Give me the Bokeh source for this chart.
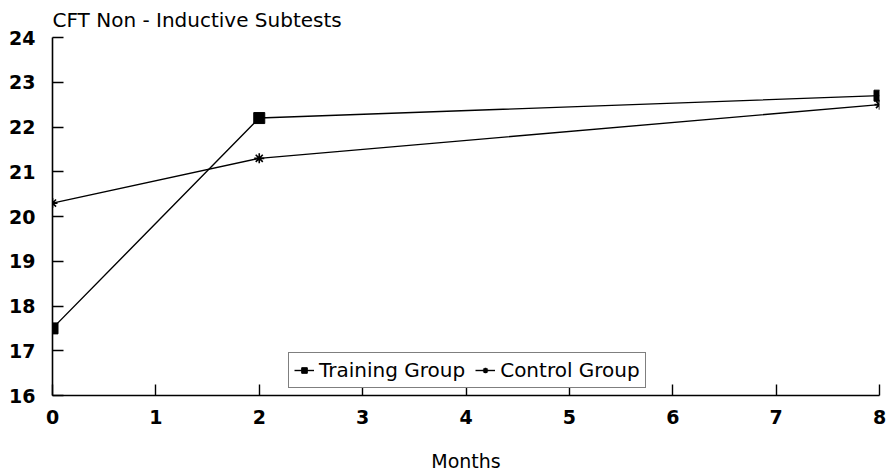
from bokeh.plotting import figure
from bokeh.embed import file_html
from bokeh.resources import INLINE
from bokeh.models import Legend, LegendItem, FixedTicker

months = [0, 2, 8]
training = [17.5, 22.2, 22.7]
control = [20.3, 21.3, 22.5]
x_ticks = [0, 1, 2, 3, 4, 5, 6, 7, 8]
y_ticks = [16, 17, 18, 19, 20, 21, 22, 23, 24]

FONT = "DejaVu Sans"

p = figure(width=890, height=475, output_backend="svg", toolbar_location=None,
           x_range=(0, 8), y_range=(16, 24),
           min_border_left=52, min_border_right=11, min_border_top=0, min_border_bottom=80,
           title="CFT Non - Inductive Subtests")
p.title.text_font = FONT
p.title.text_font_size = "20px"
p.title.text_font_style = "normal"
p.title.text_color = "black"
p.title.align = "left"
p.title.offset = 0
p.title.standoff = 11

p.outline_line_color = None
p.grid.visible = False
p.background_fill_color = "white"

for ax in (p.xaxis[0], p.yaxis[0]):
    ax.major_tick_in = 11
    ax.major_tick_out = 0
    ax.minor_tick_in = 0
    ax.minor_tick_out = 0
    ax.axis_line_width = 1.6
    ax.major_tick_line_width = 1.4
    ax.axis_line_color = "black"
    ax.major_tick_line_color = "black"
    ax.major_label_text_font = FONT
    ax.major_label_text_font_size = "19px"
    ax.major_label_text_font_style = "bold"
    ax.major_label_text_color = "black"

p.xaxis.ticker = FixedTicker(ticks=x_ticks)
p.yaxis.ticker = FixedTicker(ticks=y_ticks)
p.xaxis.major_label_standoff = 14
p.yaxis.major_label_standoff = 17
p.xaxis.axis_label = "Months"
p.xaxis.axis_label_text_font = FONT
p.xaxis.axis_label_text_font_size = "19px"
p.xaxis.axis_label_text_font_style = "normal"
p.xaxis.axis_label_text_color = "black"
p.xaxis.axis_label_standoff = 23

l1 = p.line(months, training, line_color="black", line_width=1.4)
m1 = p.scatter(months, training, marker="square", size=11, fill_color="black", line_color="black")
l2 = p.line(months, control, line_color="black", line_width=1.4)
m2 = p.scatter(months, control, marker="asterisk", size=10, line_color="black", line_width=1.6)

legend = Legend(items=[LegendItem(label="Training Group", renderers=[l1, m1]),
                       LegendItem(label="Control Group", renderers=[l2, m2])],
                orientation="horizontal", location=(236, 7),
                border_line_color="black", border_line_width=1.3,
                label_text_font=FONT, label_text_font_size="20px",
                label_text_color="black",
                glyph_width=20, glyph_height=14, label_standoff=5, spacing=10,
                padding=5, margin=0, background_fill_alpha=1)
p.add_layout(legend, "center")

open("out.html", "w").write(file_html(p, INLINE))
